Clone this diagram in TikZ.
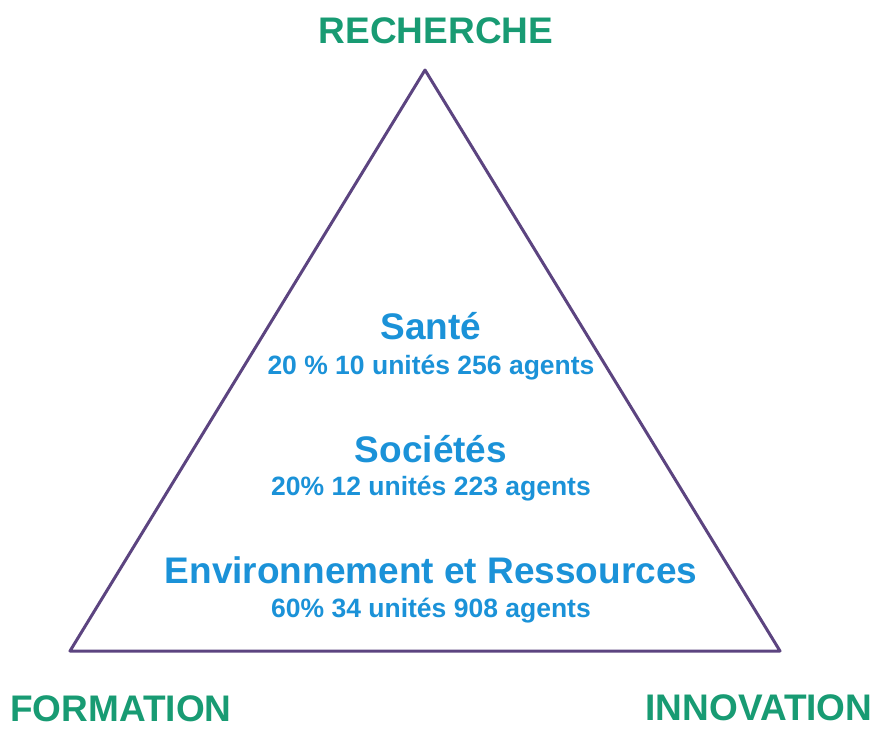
\documentclass[tikz,border=0pt]{standalone}
\usepackage{fontspec}
\setmainfont{Liberation Sans}
\usepackage{tikz}
\usetikzlibrary{positioning}
\usepackage{xcolor}
\definecolor{poleGreen}{RGB}{24,155,115}
\definecolor{domBlue}{RGB}{27,146,216}
\definecolor{triPurple}{RGB}{92,68,128}
\tikzstyle{polelabel} = [inner sep=0pt, anchor=base, text=poleGreen, font=\fontsize{37}{40}\selectfont\bfseries]
\tikzstyle{domainlabel} = [inner sep=0pt, anchor=base, text=domBlue, font=\fontsize{37}{40}\selectfont\bfseries]
\tikzstyle{figurelabel} = [inner sep=0pt, anchor=base, text=domBlue, font=\fontsize{26.5}{30}\selectfont\bfseries]
\tikzstyle{triline} = [line width=3pt, color=triPurple, line join=round]

\begin{document}
\begin{tikzpicture}[x=1pt, y=-1pt]
\useasboundingbox (0,0) rectangle (877,728);
% Triangle
\coordinate (apex) at (425,70);
\coordinate (bl) at (70,651);
\coordinate (br) at (780,651);
\draw[triline] (apex) -- (bl) -- (br) -- cycle;
% Poles
\node[polelabel] (recherche) at (436,43) {RECHERCHE};
\node[polelabel] (formation) at (121,721) {FORMATION};
\node[polelabel] (innovation) at (759,720) {INNOVATION};
% Domains
\node[domainlabel] (sante) at (431,339) {Santé};
\node[figurelabel] (santefig) at (431,374) {20 \% 10 unités 256 agents};
\node[domainlabel] (societes) at (431,462) {Sociétés};
\node[figurelabel] (societesfig) at (431,495) {20\% 12 unités 223 agents};
\node[domainlabel] (envir) at (431,583) {Environnement et Ressources};
\node[figurelabel] (envirfig) at (431,617) {60\% 34 unités 908 agents};
\end{tikzpicture}
\end{document}
